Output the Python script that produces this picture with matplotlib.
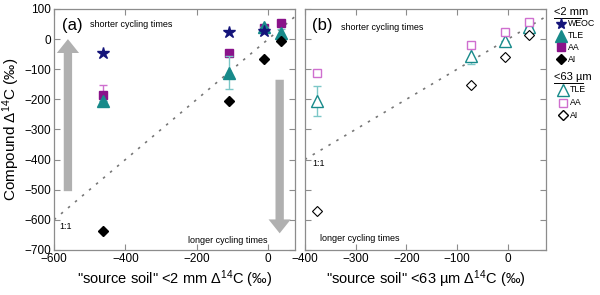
import numpy as np
import matplotlib
matplotlib.use("Agg")
import matplotlib.pyplot as plt

plt.rcParams['font.family'] = ['Liberation Sans', 'DejaVu Sans']
plt.rcParams['mathtext.fontset'] = 'custom'
plt.rcParams['mathtext.rm'] = 'Liberation Sans'
plt.rcParams['mathtext.it'] = 'Liberation Sans:italic'

# panel (a): <2 mm source soil
xa = [-464, -110, -12, 37]
weoc_a = [-47, 23, 28, None]
tle_a = [-207, -112, 40, 20]
tle_a_err = [0, 55, 0, 15]
aa_a = [-184, -46, 37, 54]
aa_a_err = [33, 10, 0, 0]
ai_a = [-638, -207, -66, -7]

# panel (b): <63 um source soil
xb = [-376, -72, -5, 41]
tle_b = [-207, -56, -6, 41]
tle_b_err = [50, 28, 0, 0]
aa_b = [-111, -20, 22, 56]
ai_b = [-572, -153, -59, 13]

navy = '#14147a'
teal = '#178a8a'
purple = '#8a138a'
lteal = '#7cc7c7'
lpurple = '#cf6fcf'
gray = '#8c8c8c'

fig = plt.figure(figsize=(6, 2.95), dpi=100)
axa = fig.add_axes([0.09, 0.153, 0.4017, 0.8165])
axb = fig.add_axes([0.508, 0.153, 0.402, 0.8165])

for ax in (axa, axb):
    for s in ax.spines.values():
        s.set_color(gray)
        s.set_linewidth(0.9)
    ax.tick_params(direction='in', top=True, right=True, color=gray,
                   length=4, labelsize=8.5, pad=2)
    ax.set_ylim(-700, 100)
    ax.set_yticks(np.arange(-700, 101, 100))

# ---- panel (a)
axa.set_xlim(-600, 75)
axa.set_xticks([-600, -400, -200, 0])
lx = np.array([-600, 75])
axa.plot(lx, lx, ls=(0, (1.5, 4)), color='#777777', lw=1.2, zorder=1)
axa.annotate('', xy=(-561, 0), xytext=(-561, -505),
             arrowprops=dict(facecolor='#b0b0b0', edgecolor='none',
                             width=6, headwidth=16, headlength=10))
axa.annotate('', xy=(32, -645), xytext=(32, -135),
             arrowprops=dict(facecolor='#b0b0b0', edgecolor='none',
                             width=6, headwidth=16, headlength=10))

xs = [x for x, w in zip(xa, weoc_a) if w is not None]
ws = [w for w in weoc_a if w is not None]
axa.errorbar(xa, aa_a, yerr=aa_a_err, fmt='s', color=purple, ms=6,
             ecolor=lpurple, elinewidth=1, capsize=3, zorder=3)
axa.errorbar(xa, tle_a, yerr=tle_a_err, fmt='^', color=teal, ms=8,
             ecolor=lteal, elinewidth=1, capsize=3, zorder=4)
axa.plot(xs, ws, '*', color=navy, ms=9, zorder=5)
axa.plot(xa, ai_a, 'D', color='black', ms=5.5, zorder=5)

axa.text(-578, 45, '(a)', fontsize=12, va='center')
axa.text(-500, 47, 'shorter cycling times', fontsize=6.5, va='center')
axa.text(-225, -668, 'longer cycling times', fontsize=6.5, va='center')
axa.text(-586, -622, '1:1', fontsize=6.5, va='center')
axa.set_ylabel('Compound $\\Delta^{14}$C (‰)', fontsize=11, labelpad=2)
axa.set_xlabel('"source soil" <2 mm $\\Delta^{14}$C (‰)', fontsize=10.5,
               labelpad=3)

# ---- panel (b)
axb.set_xlim(-400, 75)
axb.set_xticks([-400, -300, -200, -100, 0])
axb.tick_params(labelleft=False)
lx = np.array([-400, 75])
axb.plot(lx, lx, ls=(0, (1.5, 4)), color='#777777', lw=1.2, zorder=1)
axb.errorbar(xb, tle_b, yerr=tle_b_err, fmt='^', mfc='white', mec=teal,
             ms=8, mew=1, ecolor=lteal, elinewidth=1, capsize=3, zorder=3)
axb.plot(xb, aa_b, 's', mfc='white', mec=lpurple, ms=6, mew=1, zorder=4)
axb.plot(xb, ai_b, 'D', mfc='white', mec='black', ms=5.5, mew=0.8, zorder=4)

axb.text(-386, 45, '(b)', fontsize=12, va='center')
axb.text(-328, 40, 'shorter cycling times', fontsize=6.5, va='center')
axb.text(-370, -663, 'longer cycling times', fontsize=6.5, va='center')
axb.text(-386, -413, '1:1', fontsize=6.5, va='center')
axb.set_xlabel('"source soil" <63 µm $\\Delta^{14}$C (‰)', fontsize=10.5,
               labelpad=3)

# ---- legend (drawn manually at right)
lg = fig.add_axes([0.915, 0, 0.085, 1])
lg.set_axis_off()
lg.set_xlim(549, 600)
lg.set_ylim(295, 0)
entries1 = [('*', navy, navy, 8, 'WEOC'), ('^', teal, teal, 8, 'TLE'),
            ('s', purple, purple, 6, 'AA'), ('D', 'black', 'black', 5.5, 'AI')]
entries2 = [('^', 'white', teal, 8, 'TLE'), ('s', 'white', lpurple, 6, 'AA'),
            ('D', 'white', 'black', 5.5, 'AI')]
lg.text(554, 12, '<2 mm', fontsize=8, va='center')
lg.plot([554, 581], [17.5, 17.5], color='black', lw=0.7)
for i, (m, fc, ec, sz, lab) in enumerate(entries1):
    y = 24 + i * 11.7
    lg.plot(561, y, m, mfc=fc, mec=ec, ms=sz, mew=1)
    lg.text(568, y, lab, fontsize=6.3, va='center')
lg.text(554, 77, '<63 µm', fontsize=8, va='center')
lg.plot([554, 583], [82.5, 82.5], color='black', lw=0.7)
for i, (m, fc, ec, sz, lab) in enumerate(entries2):
    y = 90 + i * 12.5
    lg.plot(563, y, m, mfc=fc, mec=ec, ms=sz, mew=1)
    lg.text(570, y, lab, fontsize=6.3, va='center')

fig.savefig('out.png', dpi=100)
